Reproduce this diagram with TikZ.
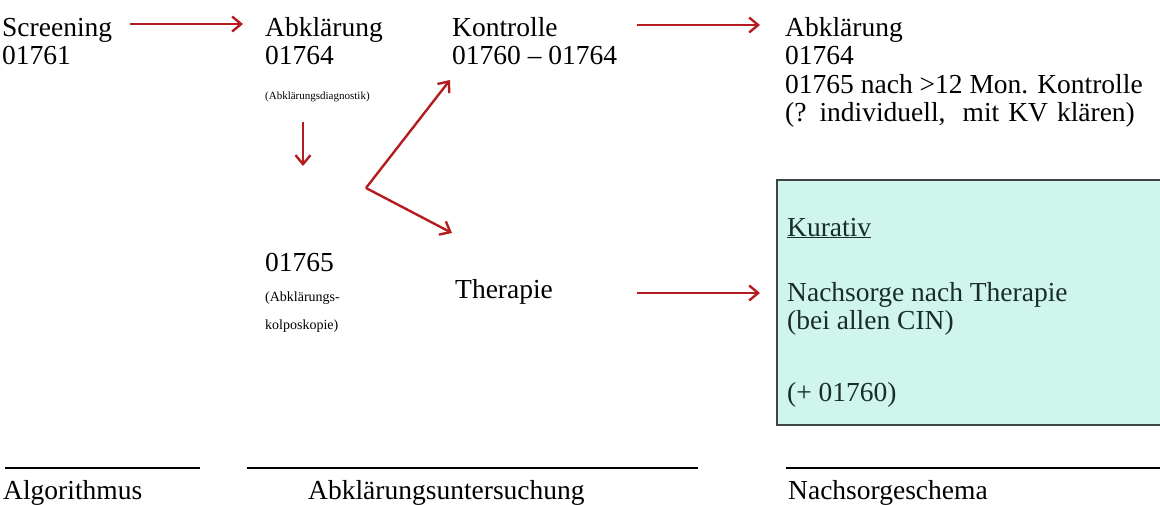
\documentclass[tikz,border=0pt]{standalone}
\usepackage{fontspec}
\setmainfont{Liberation Serif}
\usetikzlibrary{arrows.meta}
\definecolor{arr}{RGB}{180,28,32}
\definecolor{boxfill}{RGB}{208,245,236}
\definecolor{boxline}{RGB}{60,70,70}
\definecolor{boxtext}{RGB}{25,45,40}
\begin{document}
\frenchspacing
\begin{tikzpicture}[x=1pt,y=-1pt,
  txt/.style={anchor=base west,inner sep=0pt,font=\fontsize{27.5}{30}\selectfont},
  small/.style={anchor=base west,inner sep=0pt,font=\fontsize{11}{12}\selectfont},
  smallb/.style={anchor=base west,inner sep=0pt,font=\fontsize{14}{16}\selectfont},
  intxt/.style={txt,text=boxtext},
  flow/.style={draw=arr,line width=2.4pt,-{Straight Barb[length=9pt,width=15pt,line width=2.4pt]}},
  rulel/.style={line width=2.2pt,draw=black}]
\useasboundingbox (0,0) rectangle (1160,504);
% box
\path[fill=boxfill,draw=boxline,line width=1.5pt] (777,180) rectangle (1165,425);
% left column
\node[txt] (scr) at (2,36) {Screening};
\node[txt] (scrn) at (2,64) {01761};
% middle column
\node[txt] (abk) at (265,36) {Abklärung};
\node[txt] (abkn) at (265,64) {01764};
\node[small] (abkd) at (265,99) {(Abklärungsdiagnostik)};
\node[txt] (kol) at (265,271) {01765};
\node[smallb] (kol1) at (265,301) {(Abklärungs-};
\node[smallb] (kol2) at (265,329) {kolposkopie)};
\node[txt] (kon) at (452,36) {Kontrolle};
\node[txt] (konn) at (452,64) {01760 – 01764};
\node[txt] (ther) at (455,298) {Therapie};
% right column
\node[txt] (r1) at (785,36) {Abklärung};
\node[txt] (r2) at (785,64) {01764};
\node[txt] (r3) at (785,93) {01765 nach >12 Mon.\hspace{9pt}Kontrolle};
\node[txt] (r4) at (785,121) {(?\hspace{13pt}individuell,\hspace{17pt}mit\hspace{9pt}KV\hspace{9pt}klären)};
\node[intxt] (kur) at (787,236) {\underline{Kurativ}};
\node[intxt] (n1) at (787,301) {Nachsorge nach Therapie};
\node[intxt] (n2) at (787,329) {(bei allen CIN)};
\node[intxt] (n3) at (787,401) {(+ 01760)};
% arrow coordinates
\coordinate (a1s) at (130,24);
\coordinate (a1e) at (243,24);
\coordinate (a2s) at (303,122);
\coordinate (a2e) at (303,166);
\coordinate (v) at (366,188);
\coordinate (vu) at (450,80);
\coordinate (vd) at (452,233);
\coordinate (a4s) at (637,25);
\coordinate (a4e) at (760,25);
\coordinate (a5s) at (637,293);
\coordinate (a5e) at (760,293);
\draw[flow] (a1s) -- (a1e);
\draw[flow] (a2s) -- (a2e);
\draw[flow] (v) -- (vu);
\draw[flow] (v) -- (vd);
\draw[flow] (a4s) -- (a4e);
\draw[flow] (a5s) -- (a5e);
% bottom rules and labels
\coordinate (l1a) at (5,468); \coordinate (l1b) at (200,468);
\coordinate (l2a) at (247,468); \coordinate (l2b) at (698,468);
\coordinate (l3a) at (786,468); \coordinate (l3b) at (1160,468);
\draw[rulel] (l1a) -- (l1b);
\draw[rulel] (l2a) -- (l2b);
\draw[rulel] (l3a) -- (l3b);
\node[txt] (alg) at (3,499) {Algorithmus};
\node[txt] (abu) at (308,499) {Abklärungsuntersuchung};
\node[txt] (nse) at (788,499) {Nachsorgeschema};
\end{tikzpicture}
\end{document}
